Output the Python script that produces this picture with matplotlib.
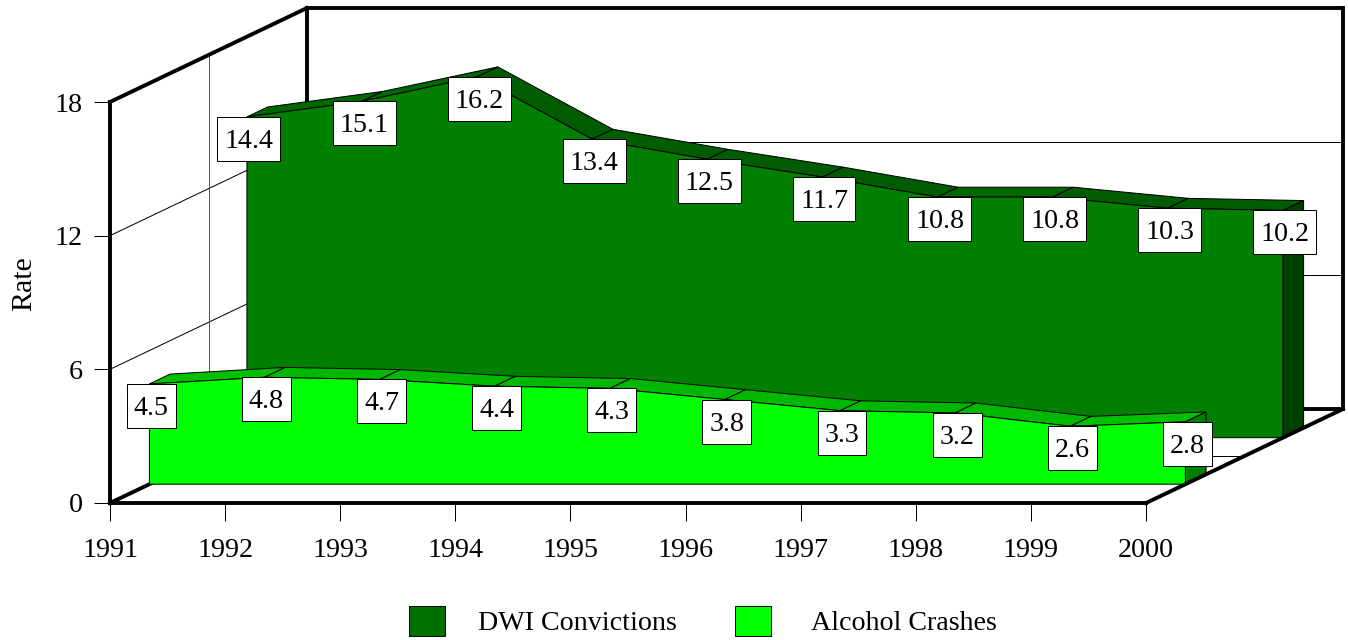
import matplotlib
matplotlib.use("Agg")
import matplotlib.pyplot as plt
from matplotlib.patches import Polygon, Patch
from matplotlib.path import Path
from matplotlib.transforms import IdentityTransform

years = [1991, 1992, 1993, 1994, 1995, 1996, 1997, 1998, 1999, 2000]
dwi_convictions = [14.4, 15.1, 16.2, 13.4, 12.5, 11.7, 10.8, 10.8, 10.3, 10.2]
alcohol_crashes = [4.5, 4.8, 4.7, 4.4, 4.3, 3.8, 3.3, 3.2, 2.6, 2.8]
y_ticks = [0, 6, 12, 18]
series_names = ["DWI Convictions", "Alcohol Crashes"]

plt.rcParams['font.family'] = ['Liberation Serif', 'DejaVu Serif']
W, H = 1348, 640
fig = plt.figure(figsize=(W / 100, H / 100), dpi=100, facecolor='white')
ax = fig.add_axes([110 / W, (H - 503) / H, 1036 / W, 401 / H])
ax.set_xlim(1991, 2000)
ax.set_ylim(0, 18)
ax.patch.set_visible(False)
FS = 20.2
PX = IdentityTransform()
DX, DY = 197.0, 94.0
THIN = 0.72
THICK = 2.8


def proj(x, v, d=0.0):
    p = ax.transData.transform((x, v))
    return (p[0] + d * DX, p[1] + d * DY)


def line(a, b, lw=THIN, color='black', z=1.0):
    ax.plot([a[0], b[0]], [a[1], b[1]], color=color, lw=lw, transform=PX, clip_on=False,
            zorder=z, solid_capstyle='projecting', scalex=False, scaley=False)


def poly(pts, fc, z):
    ax.add_patch(Polygon(pts, closed=True, facecolor=fc, edgecolor='black', lw=THIN,
                         transform=PX, clip_on=False, zorder=z, joinstyle='miter'))


x0, x1 = years[0], years[-1]
for v in y_ticks[1:3]:
    line(proj(x0, v), proj(x0, v, 1), z=1.0)
    line(proj(x0, v, 1), proj(x1, v, 1), z=1.0)
# mid-depth grid
line(proj(x0, 0, .5), proj(x0, 18, .5), color='#555555', z=1.0)
line(proj(x0, 0, .5), proj(x1, 0, .5), z=1.0)

# thick frame
line(proj(x0, 18), proj(x0, 18, 1), THICK, z=1.2)
line(proj(x0, 18, 1), proj(x1, 18, 1), THICK, z=1.2)
line(proj(x0, 18, 1), proj(x0, 0, 1), THICK, z=1.2)
line(proj(x1, 18, 1), proj(x1, 0, 1), THICK, z=1.2)
line(proj(x0, 0, 1), proj(x1, 0, 1), THICK, z=1.2)
line(proj(x0, 0), proj(x0, 0, 1), THICK, z=1.2)


def area(vals, d0, d1, front, up, down, side, z):
    n = len(vals)
    for i in range(n - 1):
        c = up if vals[i + 1] >= vals[i] else down
        poly([proj(years[i], vals[i], d0), proj(years[i + 1], vals[i + 1], d0),
              proj(years[i + 1], vals[i + 1], d1), proj(years[i], vals[i], d1)], c, z)
    poly([proj(x1, 0, d0), proj(x1, vals[-1], d0), proj(x1, vals[-1], d1), proj(x1, 0, d1)], side, z)
    pts = [proj(x0, 0, d0)] + [proj(y, v, d0) for y, v in zip(years, vals)] + [proj(x1, 0, d0)]
    poly(pts, front, z + .01)


area(dwi_convictions, 0.695, 0.8, '#007F00', '#006600', '#005C00', '#004000', 1.5)
area(alcohol_crashes, 0.2, 0.305, '#00FF00', '#00C000', '#00B800', '#007F00', 1.7)
line(proj(x1, 0), proj(x1, 0, 1), THICK, z=1.9)

TEXT_SHIFT = 2.5


def fixed_box(x, y, w, h, mut):
    cy = y + h / 2 + TEXT_SHIFT
    l, r = x - 7, x + w + 7
    b, t = cy - 22, cy + 22
    return Path([(l, b), (r, b), (r, t), (l, t), (l, b)],
                [Path.MOVETO, Path.LINETO, Path.LINETO, Path.LINETO, Path.CLOSEPOLY])


def labels(vals, d):
    for y, v in zip(years, vals):
        p = proj(y, v, d)
        ax.annotate(f"{v:.1f}", xy=p, xycoords=PX, xytext=(2, -22 - TEXT_SHIFT),
                    textcoords='offset pixels',
                    ha='center', va='center', fontsize=FS, color='black', zorder=5,
                    annotation_clip=False,
                    bbox=dict(boxstyle=fixed_box, facecolor='white', edgecolor='black', lw=THIN))


labels(dwi_convictions, 0.695)
labels(alcohol_crashes, 0.2)

ax.spines['top'].set_visible(False)
ax.spines['right'].set_visible(False)
ax.spines['left'].set_linewidth(THICK)
ax.spines['bottom'].set_linewidth(THICK)
ax.set_xticks(years)
ax.set_xticklabels([str(y) for y in years], fontsize=FS)
ax.set_yticks(y_ticks)
ax.set_yticklabels([str(v) for v in y_ticks], fontsize=FS)
ax.tick_params(axis='x', length=13, width=THIN, pad=12.5)
ax.tick_params(axis='y', length=11.5, width=THIN, pad=8)
ax.set_ylabel("Rate", fontsize=21.5, va='center')
ax.yaxis.set_label_coords((24 - 110) / 1036, (503 - 284) / 401)

swatch_colors = ['#007000', '#00FF00']
swatch_x = [409, 735]
text_gap = [1.17, 1.42]
for name, col, sx, gap in zip(series_names, swatch_colors, swatch_x, text_gap):
    fig.legend([Patch(facecolor=col, edgecolor='black', lw=THIN)], [name], loc='center left',
               bbox_to_anchor=(sx / W, 1 - 621 / H), frameon=False, fontsize=FS,
               handlelength=1.28, handleheight=1.25, handletextpad=gap,
               borderpad=0, borderaxespad=0)

fig.savefig("out.png", dpi=100, facecolor='white')
